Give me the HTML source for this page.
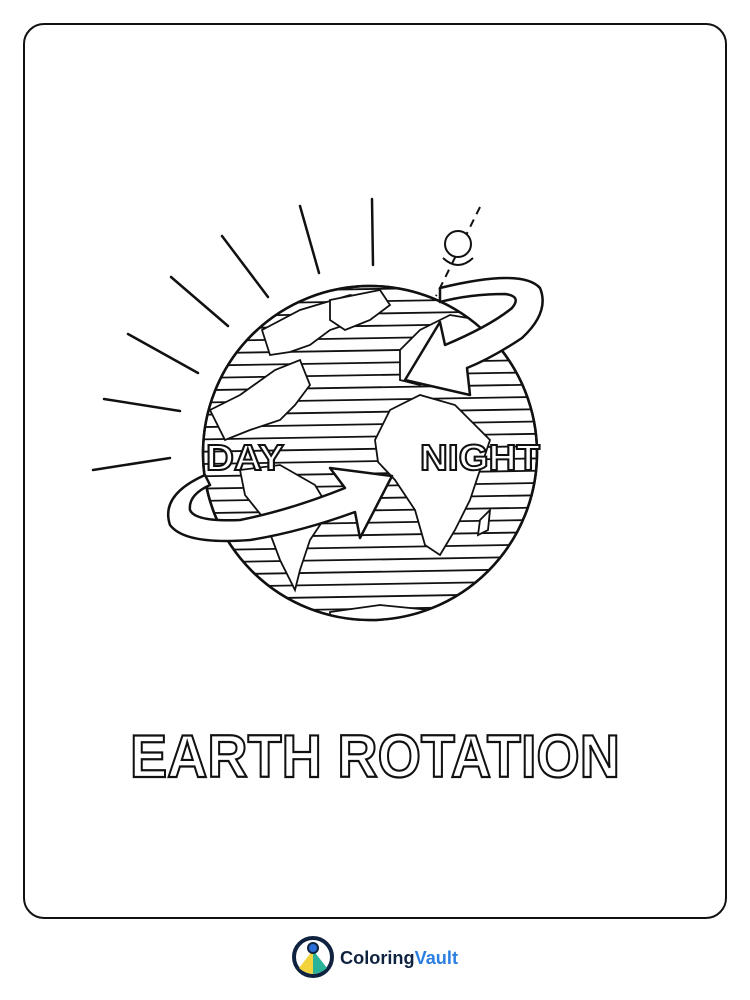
<!DOCTYPE html>
<html><head><meta charset="utf-8"><style>
html,body{margin:0;padding:0;background:#fff;}
svg{display:block;}
</style></head><body>
<svg width="750" height="1000" viewBox="0 0 750 1000" xmlns="http://www.w3.org/2000/svg">
<defs><clipPath id="g"><circle cx="370" cy="453" r="167"/></clipPath></defs>
<rect x="24" y="24" width="702" height="894" rx="20" fill="#fff" stroke="#111" stroke-width="2"/>
<g stroke="#111" stroke-width="2.5" stroke-linecap="round">
<line x1="93" y1="470" x2="170" y2="458"/><line x1="104" y1="399" x2="180" y2="411"/>
<line x1="128" y1="334" x2="198" y2="373"/><line x1="171" y1="277" x2="228" y2="326"/>
<line x1="222" y1="236" x2="268" y2="297"/><line x1="300" y1="206" x2="319" y2="273"/>
<line x1="372" y1="199" x2="373" y2="265"/>
</g>
<g fill="none" stroke="#111" stroke-width="2">
<line x1="480" y1="207" x2="436" y2="296" stroke-dasharray="8 6"/>
<circle cx="458" cy="244" r="13" fill="#fff"/>
<path d="M443 258 Q458 272 473 258"/>
</g>
<g>
<circle cx="370" cy="453" r="167" fill="#fff" stroke="#111" stroke-width="2.5"/>
<g clip-path="url(#g)" stroke="#111" stroke-width="1.8" fill="#fff">
<g id="stripes"></g>
<path d="M262 330 L300 310 L350 295 L385 300 L360 320 L330 330 L310 345 L290 352 L270 355 Z"/>
<path d="M330 300 L380 290 L390 305 L370 320 L345 330 L330 320 Z"/>
<path d="M210 410 L240 395 L275 370 L300 360 L310 385 L295 405 L280 420 L250 430 L225 440 Z"/>
<path d="M240 470 L280 465 L315 485 L330 510 L310 540 L300 570 L295 590 L280 560 L265 520 L245 495 Z"/>
<path d="M375 440 L390 410 L420 395 L455 405 L470 420 L490 440 L480 470 L470 500 L455 530 L440 555 L425 545 L415 510 L395 480 L378 462 Z"/>
<path d="M400 350 L420 330 L450 315 L480 320 L500 340 L470 360 L440 375 L420 385 L400 380 Z"/>
<path d="M480 520 L490 510 L488 530 L478 535 Z"/>
<path d="M330 612 L380 605 L430 610 L450 625 L330 625 Z"/>
</g>
<circle cx="370" cy="453" r="167" fill="none" stroke="#111" stroke-width="2.5"/>
</g>
<g fill="#fff" stroke="#111" stroke-width="2.5" stroke-linejoin="round">
<path d="M205 475 Q160 495 170 525 Q185 545 250 540 Q300 532 355 512 L360 538 L392 476 L330 468 L345 488 Q290 510 240 520 Q195 522 190 510 Q188 495 210 485 Z"/>
</g>
<g fill="#fff" stroke="#111" stroke-width="2.5" stroke-linejoin="round">
<path d="M440 288 Q522 268 540 288 Q550 312 522 338 Q492 358 467 368 L470 395 L405 380 L440 322 L445 345 Q490 326 512 308 Q522 296 505 294 Q470 294 440 302 Z"/>
</g>
<g font-family="Liberation Sans, sans-serif" font-weight="bold" fill="#fff" stroke="#111" stroke-width="2">
<text x="206" y="470" font-size="36" textLength="78" lengthAdjust="spacingAndGlyphs">DAY</text>
<text x="420" y="470" font-size="36" textLength="120" lengthAdjust="spacingAndGlyphs">NIGHT</text>
</g>
<text x="130" y="777" font-family="Liberation Sans, sans-serif" font-weight="bold" font-size="60" fill="#fff" stroke="#111" stroke-width="2.2" textLength="490" lengthAdjust="spacingAndGlyphs">EARTH ROTATION</text>
<g>
<circle cx="313" cy="957" r="19" fill="#fff" stroke="#0f2340" stroke-width="4"/>
<path d="M299 968 L313 950 L313 974 Q304 973 299 968 Z" fill="#f2d33b"/>
<path d="M327 968 L313 950 L313 974 Q322 973 327 968 Z" fill="#2bb39a"/>
<circle cx="313" cy="948" r="5" fill="#2b6fd6" stroke="#0f2340" stroke-width="2"/>
<text x="340" y="964" font-family="Liberation Sans, sans-serif" font-weight="bold" font-size="18" fill="#0f2340" textLength="118" lengthAdjust="spacingAndGlyphs">Coloring<tspan fill="#2b7fe0">Vault</tspan></text>
</g>
<script>
var g=document.getElementById('stripes');
for(var y=292;y<625;y+=12.3){var l=document.createElementNS('http://www.w3.org/2000/svg','line');
l.setAttribute('x1',190);l.setAttribute('x2',550);l.setAttribute('y1',y);l.setAttribute('y2',y-6);


g.appendChild(l);}
</script>
</svg>
</body></html>
